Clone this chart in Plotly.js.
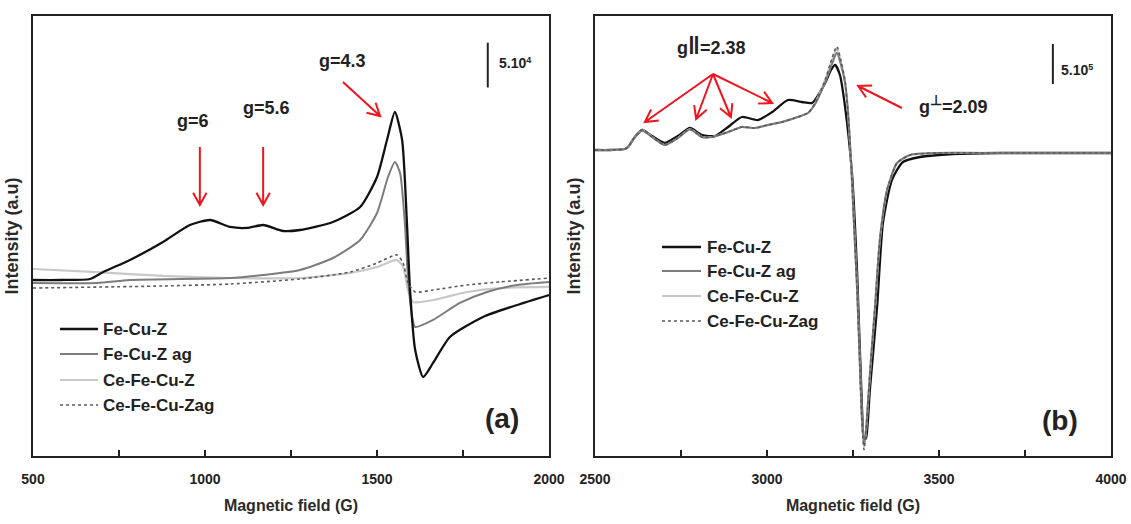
<!DOCTYPE html>
<html>
<head>
<meta charset="utf-8">
<script src="https://cdn.plot.ly/plotly-3.0.1.min.js"></script>
<style>
  html, body { margin: 0; padding: 0; background: #fff; }
  #chart { width: 1131px; height: 524px; }
</style>
</head>
<body>
<div id="chart"></div>
<script>
// ---- EPR spectra: (a) low field Fe3+ region, (b) Cu2+ region ----
const seriesNames = ['Fe-Cu-Z', 'Fe-Cu-Z ag', 'Ce-Fe-Cu-Z', 'Ce-Fe-Cu-Zag'];

// Panel (a): magnetic field (G) and intensity (a.u.)
const fieldA_FeCuZ = [500, 579, 666, 704, 782, 878, 956, 1015, 1073, 1122, 1169, 1227, 1276, 1372, 1451, 1500, 1529, 1552, 1573, 1587, 1596, 1611, 1634, 1663, 1712, 1808, 1907, 2000];
const intA_FeCuZ   = [5600, 5600, 6700, 14500, 28000, 48100, 67100, 72700, 64900, 63800, 67100, 60400, 61500, 70500, 87200, 120800, 162200, 193500, 162200, 69400, -5600, -72700, -102900, -87200, -58200, -35800, -22400, -11200];

const fieldA_FeCuZag = [500, 686, 782, 1073, 1169, 1276, 1372, 1451, 1500, 1532, 1552, 1567, 1581, 1590, 1602, 1611, 1663, 1741, 1820, 1907, 2000];
const intA_FeCuZag   = [2200, 2200, 5600, 7800, 11200, 16800, 30200, 50300, 80500, 120800, 137600, 125300, 69400, 8900, -35800, -47000, -39100, -20100, -7800, 0, 3400];

const fieldA_CeFeCuZ = [500, 686, 878, 1073, 1276, 1422, 1500, 1558, 1576, 1590, 1605, 1663, 1762, 1858, 2000];
const intA_CeFeCuZ   = [17900, 14500, 10100, 7800, 7800, 13400, 20100, 28000, 20100, -5600, -19000, -16800, -7800, -3400, -2200];

const fieldA_CeFeCuZag = [500, 878, 1073, 1276, 1422, 1500, 1558, 1576, 1590, 1611, 1663, 1762, 1858, 2000];
const intA_CeFeCuZag   = [-3400, -1100, 1100, 6700, 14500, 24600, 33600, 24600, 2200, -7800, -5600, 0, 3400, 7800];

// Panel (b)
const fieldB_FeCuZ = [2500, 2544, 2587, 2596, 2616, 2637, 2666, 2703, 2741, 2776, 2811, 2849, 2887, 2927, 2974, 3015, 3061, 3102, 3131, 3169, 3186, 3198, 3212, 3227, 3247, 3262, 3276, 3282, 3288, 3299, 3320, 3337, 3363, 3395, 3445, 3541, 3677, 4000];
const intB_FeCuZ   = [25000, 25000, 37500, 62500, 187500, 275000, 200000, 112500, 200000, 300000, 212500, 200000, 312500, 437500, 400000, 500000, 650000, 625000, 612500, 862500, 1025000, 1087500, 962500, 562500, -262500, -1512500, -3187500, -3600000, -3575000, -2975000, -1937500, -887500, -350000, -125000, -62500, -25000, -12500, -12500];

const fieldB_gray = [2500, 2544, 2587, 2596, 2616, 2637, 2666, 2703, 2741, 2776, 2811, 2840, 2887, 2927, 2965, 3003, 3044, 3081, 3119, 3140, 3169, 3189, 3203, 3215, 3227, 3235, 3244, 3253, 3262, 3270, 3276, 3282, 3288, 3294, 3302, 3314, 3328, 3349, 3378, 3416, 3494, 3677, 4000];
const intB_FeCuZag   = [25000, 25000, 37500, 62500, 187500, 265000, 187500, 87500, 175000, 280000, 187500, 187500, 250000, 312500, 300000, 337500, 375000, 425000, 487500, 600000, 870000, 1100000, 1240000, 1090000, 860000, 525000, -100000, -912500, -1725000, -2650000, -3320000, -3650000, -3460000, -3100000, -2600000, -1937500, -1100000, -475000, -137500, -37500, -12500, -12500, -12500];
const intB_CeFeCuZ   = [25000, 25000, 37500, 62500, 187500, 275000, 187500, 87500, 175000, 287500, 187500, 187500, 250000, 312500, 300000, 337500, 375000, 425000, 487500, 612500, 900000, 1150000, 1300000, 1125000, 875000, 525000, -100000, -912500, -1725000, -2662500, -3350000, -3687500, -3475000, -3100000, -2600000, -1937500, -1100000, -475000, -137500, -37500, -12500, -12500, -12500];
const intB_CeFeCuZag = [25000, 25000, 37500, 62500, 187500, 280000, 187500, 87500, 175000, 287500, 187500, 187500, 250000, 312500, 300000, 337500, 375000, 425000, 487500, 612500, 900000, 1170000, 1320000, 1140000, 880000, 525000, -100000, -912500, -1725000, -2675000, -3380000, -3720000, -3490000, -3100000, -2600000, -1937500, -1100000, -475000, -137500, -37500, -12500, -12500, -12500];

// Axis ticks (labelled every 500 G, minor marks every 250 G)
const ticksA = [500, 1000, 1500, 2000];
const ticksB = [2500, 3000, 3500, 4000];
const minorStep = 250;

// Scale bars (intensity span shown by the vertical bar)
const scaleA = 50000;
const scaleB = 500000;

// ---- styling ----
const lineStyles = {
  'Fe-Cu-Z':      { color: '#111111', width: 2.3, dash: 'solid' },
  'Fe-Cu-Z ag':   { color: '#7c7c7c', width: 2,   dash: 'solid' },
  'Ce-Fe-Cu-Z':   { color: '#c8c8c8', width: 2.2, dash: 'solid' },
  'Ce-Fe-Cu-Zag': { color: '#5a5a5a', width: 1.6, dash: 'dot' }
};
const FONT = '"Liberation Sans", Arial, sans-serif';
const RED = '#f0141e';
const W = 1131, H = 524;
const M = { l: 33, r: 20, t: 16, b: 68 };
const plotW = W - M.l - M.r;
const plotH = H - M.t - M.b;
// page pixel -> paper fraction (paper spans the area inside the margins)
const px = v => (v - M.l) / plotW;
const py = v => (H - M.b - v) / plotH;
// raised, smaller glyph inside a label
const raised = (s, size) => `<span style="baseline-shift:super;font-size:${size}px">${s}</span>`;

const panelA = {
  'Fe-Cu-Z': [fieldA_FeCuZ, intA_FeCuZ],
  'Fe-Cu-Z ag': [fieldA_FeCuZag, intA_FeCuZag],
  'Ce-Fe-Cu-Z': [fieldA_CeFeCuZ, intA_CeFeCuZ],
  'Ce-Fe-Cu-Zag': [fieldA_CeFeCuZag, intA_CeFeCuZag]
};
const panelB = {
  'Fe-Cu-Z': [fieldB_FeCuZ, intB_FeCuZ],
  'Fe-Cu-Z ag': [fieldB_gray, intB_FeCuZag],
  'Ce-Fe-Cu-Z': [fieldB_gray, intB_CeFeCuZ],
  'Ce-Fe-Cu-Zag': [fieldB_gray, intB_CeFeCuZag]
};

const drawOrderA = ['Ce-Fe-Cu-Z', 'Fe-Cu-Z ag', 'Fe-Cu-Z', 'Ce-Fe-Cu-Zag'];
const drawOrderB = ['Fe-Cu-Z', 'Ce-Fe-Cu-Z', 'Fe-Cu-Z ag', 'Ce-Fe-Cu-Zag'];

const traces = [];
function addTrace(n, data, xa, ya) {
  traces.push({
    x: data[0], y: data[1], name: n, type: 'scatter', mode: 'lines',
    xaxis: xa, yaxis: ya,
    line: Object.assign({ shape: 'spline', smoothing: 0.6 }, lineStyles[n]),
    showlegend: false, hoverinfo: 'skip'
  });
}
drawOrderA.forEach(n => addTrace(n, panelA[n], 'x', 'y'));
drawOrderB.forEach(n => addTrace(n, panelB[n], 'x2', 'y2'));

// ---- axes ----
function xAxis(domain, range, vals) {
  return {
    domain, range, tickmode: 'array', tickvals: vals,
    ticks: 'inside', ticklen: 6, tickwidth: 1.5, tickcolor: '#222',
    minor: { ticks: 'inside', ticklen: 6, tickwidth: 1.5, tickcolor: '#222', dtick: minorStep, tick0: range[0], showgrid: false },
    showline: true, mirror: true, linecolor: '#222', linewidth: 2,
    showgrid: false, zeroline: false, ticklabelstandoff: 9,
    tickfont: { family: FONT, size: 14, color: '#222', weight: 'bold' },
    title: { text: 'Magnetic field (G)', standoff: 14,
             font: { family: FONT, size: 16, color: '#2a2a2a', weight: 'bold' } }
  };
}
function yAxis(range, anchor) {
  return {
    domain: [0, 1], range, anchor,
    showline: true, mirror: true, linecolor: '#222', linewidth: 2,
    showticklabels: false, ticks: '', showgrid: false, zeroline: false,
    title: { text: 'Intensity (a.u)', standoff: 8,
             font: { family: FONT, size: 18, color: '#2a2a2a', weight: 'bold' } }
  };
}

const layout = {
  width: W, height: H,
  margin: M,
  paper_bgcolor: '#fff', plot_bgcolor: '#fff',
  showlegend: false,
  xaxis: xAxis([0, px(549)], [500, 2000], ticksA),
  yaxis: yAxis([-191300, 300900], 'x'),
  xaxis2: Object.assign(xAxis([px(595), 1], [2500, 4000], ticksB), { anchor: 'y2' }),
  yaxis2: yAxis([-3800000, 1700000], 'x2'),
  shapes: [],
  annotations: []
};

const ann = layout.annotations;
const shp = layout.shapes;

function label(xref, yref, x, y, text, size, opts) {
  ann.push(Object.assign({
    xref, yref, x, y, text, showarrow: false,
    font: { family: FONT, size, color: '#222', weight: 'bold' },
    xanchor: 'center', yanchor: 'middle'
  }, opts || {}));
}

// Red pointer arrows drawn as shapes: shaft plus an open V head,
// the head geometry worked out in screen pixels of the given axes.
function axisScale(xname, yname) {
  const xa = layout[xname], ya = layout[yname];
  const x0 = M.l + xa.domain[0] * plotW, x1 = M.l + xa.domain[1] * plotW;
  const y0 = M.t + (1 - ya.domain[1]) * plotH, y1 = M.t + (1 - ya.domain[0]) * plotH;
  return {
    toPx: (x, y) => [x0 + (x - xa.range[0]) / (xa.range[1] - xa.range[0]) * (x1 - x0),
                     y1 - (y - ya.range[0]) / (ya.range[1] - ya.range[0]) * (y1 - y0)],
    toData: (u, v) => [xa.range[0] + (u - x0) / (x1 - x0) * (xa.range[1] - xa.range[0]),
                       ya.range[0] + (y1 - v) / (y1 - y0) * (ya.range[1] - ya.range[0])]
  };
}
function arrow(xref, yref, x, y, ax, ay) {
  const s = axisScale(xref === 'x' ? 'xaxis' : 'xaxis2', yref === 'y' ? 'yaxis' : 'yaxis2');
  const [tx, ty] = s.toPx(x, y), [sx, sy] = s.toPx(ax, ay);
  const ang = Math.atan2(ty - sy, tx - sx);
  const len = 14, spread = 0.5;
  const w1 = s.toData(tx - len * Math.cos(ang - spread), ty - len * Math.sin(ang - spread));
  const w2 = s.toData(tx - len * Math.cos(ang + spread), ty - len * Math.sin(ang + spread));
  shp.push({
    type: 'path', xref, yref,
    path: `M${ax},${ay}L${x},${y}M${w1[0]},${w1[1]}L${x},${y}L${w2[0]},${w2[1]}`,
    line: { color: RED, width: 2 }
  });
}

// Panel (a) labels and arrows
label('x', 'y', 965, 183450, 'g=6', 18);
label('x', 'y', 1180, 198000, 'g=5.6', 18);
label('x', 'y', 1401, 250600, 'g=4.3', 18);
arrow('x', 'y', 985, 89500, 985, 154400);
arrow('x', 'y', 1169, 89500, 1169, 154400);
arrow('x', 'y', 1509, 189000, 1401, 227100);
shp.push({ type: 'line', xref: 'x', yref: 'y', x0: 1822, x1: 1822, y0: 221000, y1: 221000 + scaleA,
           line: { color: '#222', width: 2 } });
label('x', 'y', 1901, 248300, '5.10' + raised('4', 9), 14);
label('x', 'y', 1863, -148800, '(a)', 28);

// Panel (b) labels and arrows
label('x2', 'y2', 2840, 1337500, 'g<span style="font-size:24px">‖</span>=2.38', 18);
arrow('x2', 'y2', 2645, 375000, 2843, 975000);
arrow('x2', 'y2', 2794, 412500, 2843, 975000);
arrow('x2', 'y2', 2895, 437500, 2843, 975000);
arrow('x2', 'y2', 3015, 612500, 2843, 975000);
label('x2', 'y2', 3541, 600000, 'g' + raised('⊥', 14) + '=2.09', 18);
arrow('x2', 'y2', 3265, 825000, 3392, 550000);
shp.push({ type: 'line', xref: 'x2', yref: 'y2', x0: 3831, x1: 3831, y0: 850000, y1: 850000 + scaleB,
           line: { color: '#222', width: 2 } });
label('x2', 'y2', 3901, 1025000, '5.10' + raised('5', 9), 14);
label('x2', 'y2', 3852, -3350000, '(b)', 28);

// Legends drawn inside each panel
function legend(lineX0, lineX1, textX, rows) {
  seriesNames.forEach((n, i) => {
    const st = lineStyles[n];
    shp.push({ type: 'line', xref: 'paper', yref: 'paper',
               x0: px(lineX0), x1: px(lineX1), y0: py(rows[i]), y1: py(rows[i]),
               line: { color: st.color, width: st.width, dash: st.dash } });
    ann.push({ xref: 'paper', yref: 'paper', x: px(textX), y: py(rows[i]), text: n,
               showarrow: false, xanchor: 'left', yanchor: 'middle',
               font: { family: FONT, size: 17, color: '#222', weight: 'bold' } });
  });
}
legend(60, 98, 101, [329, 354, 380, 405]);
legend(662, 701, 705, [247, 271, 296, 321]);

Plotly.newPlot('chart', traces, layout, { staticPlot: true, displayModeBar: false });
</script>
</body>
</html>
